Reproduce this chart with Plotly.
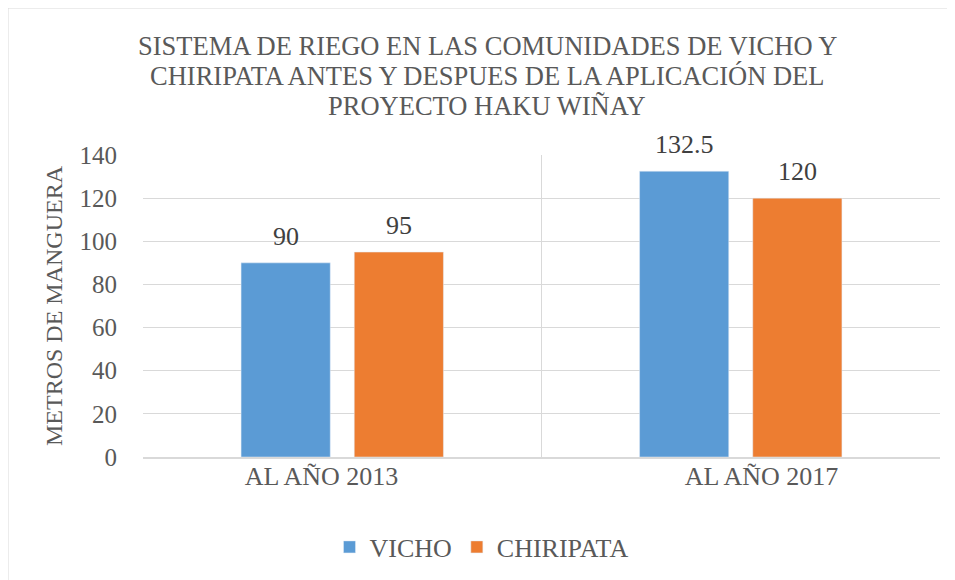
import plotly.graph_objects as go

CATEGORIES = ['AL AÑO 2013', 'AL AÑO 2017']
SERIES = ['VICHO', 'CHIRIPATA']
VICHO = [90, 132.5]
CHIRIPATA = [95, 120]
LABELS_VICHO = ['90', '132.5']
LABELS_CHIRIPATA = ['95', '120']
TITLE_LINES = ['SISTEMA DE RIEGO EN LAS COMUNIDADES DE VICHO Y',
               'CHIRIPATA ANTES Y DESPUES DE LA APLICACIÓN DEL',
               'PROYECTO HAKU WIÑAY']

FONT = 'Liberation Serif'
GRID = '#d9d9d9'
TXT = '#595959'
COLORS = ['#5b9bd5', '#ed7d31']

# the page has an 8px body margin, so the figure is 8px smaller than the window
W, H = 947, 572
OFF = 8
PLOT_LEFT, PLOT_RIGHT = 143, 940   # window pixels
PLOT_TOP, PLOT_BOT = 155, 457
PLOT_W = PLOT_RIGHT - PLOT_LEFT
PLOT_H = PLOT_BOT - PLOT_TOP
BARGAP, GROUPGAP = 0.432, 0.212
LABEL_SPREAD = 0.052   # category labels sit a little apart from the group centres

xpos = list(range(len(CATEGORIES)))
values = [VICHO, CHIRIPATA]
labels = [LABELS_VICHO, LABELS_CHIRIPATA]

fig = go.Figure()
for name, vals, col in zip(SERIES, values, COLORS):
  fig.add_trace(go.Bar(x=xpos, y=vals, name=name, marker_color=col))

# value labels above the bars (slot offsets follow the grouped bar layout)
slot = (1 - BARGAP) / len(SERIES)
annotations = []
for k, (vals, labs) in enumerate(zip(values, labels)):
  shift = (k - (len(SERIES) - 1) / 2) * slot
  for xi, v, t in zip(xpos, vals, labs):
    annotations.append(dict(x=xi + shift, y=v, xref='x', yref='y', text=t,
                            showarrow=False, yanchor='bottom', yshift=10,
                            font=dict(size=26, color='#404040', family=FONT)))

# title lines, centred on the whole chart box
title_x = (487 - PLOT_LEFT) / PLOT_W
for i, line in enumerate(TITLE_LINES):
  yc = 46 + 30 * i
  annotations.append(dict(x=title_x, xref='paper', y=(PLOT_BOT - yc) / PLOT_H, yref='paper',
                          text=line, showarrow=False, yanchor='middle', xanchor='center',
                          font=dict(size=26.5, color=TXT, family=FONT)))

fig.update_layout(
  width=W, height=H,
  paper_bgcolor='white', plot_bgcolor='white',
  font=dict(family=FONT, color=TXT, size=26),
  margin=dict(l=PLOT_LEFT - OFF, r=W + OFF - PLOT_RIGHT, t=PLOT_TOP - OFF,
              b=H + OFF - PLOT_BOT, autoexpand=False),
  barmode='group', bargap=BARGAP, bargroupgap=GROUPGAP,
  showlegend=True,
  legend=dict(orientation='h', x=0.5, xanchor='center', xref='container',
              y=1 - (547 - OFF) / H, yanchor='middle', yref='container',
              font=dict(size=26, color=TXT, family=FONT),
              itemwidth=30, traceorder='normal'),
  annotations=annotations,
  shapes=[dict(type='rect', xref='paper', yref='paper',
               x0=(8 - PLOT_LEFT) / PLOT_W, x1=(970 - PLOT_LEFT) / PLOT_W,
               y0=-0.6, y1=(PLOT_BOT - 8) / PLOT_H,
               line=dict(color=GRID, width=1), layer='below')],
)

tick_pos = [xi + (LABEL_SPREAD if xi > 0 else -LABEL_SPREAD) for xi in xpos]
fig.update_xaxes(range=[-0.5, 1.5], tickvals=tick_pos, ticktext=CATEGORIES,
                 showgrid=False, zeroline=False,
                 showline=True, linecolor=GRID, linewidth=1.5,
                 ticklabelstandoff=-5,
                 tickfont=dict(size=26, color=TXT, family=FONT),
                 minor=dict(tickvals=[-0.5, 0.5, 1.5], showgrid=True,
                            gridcolor=GRID, gridwidth=1, ticks=''))
fig.update_yaxes(range=[0, 140], dtick=20, showgrid=True, gridcolor=GRID,
                 gridwidth=1, zeroline=False, showline=False,
                 ticklabelstandoff=25,
                 tickfont=dict(size=25, color=TXT, family=FONT),
                 title=dict(text='METROS DE MANGUERA', standoff=10,
                            font=dict(size=24, color=TXT, family=FONT)))

fig.write_html('out.html')
